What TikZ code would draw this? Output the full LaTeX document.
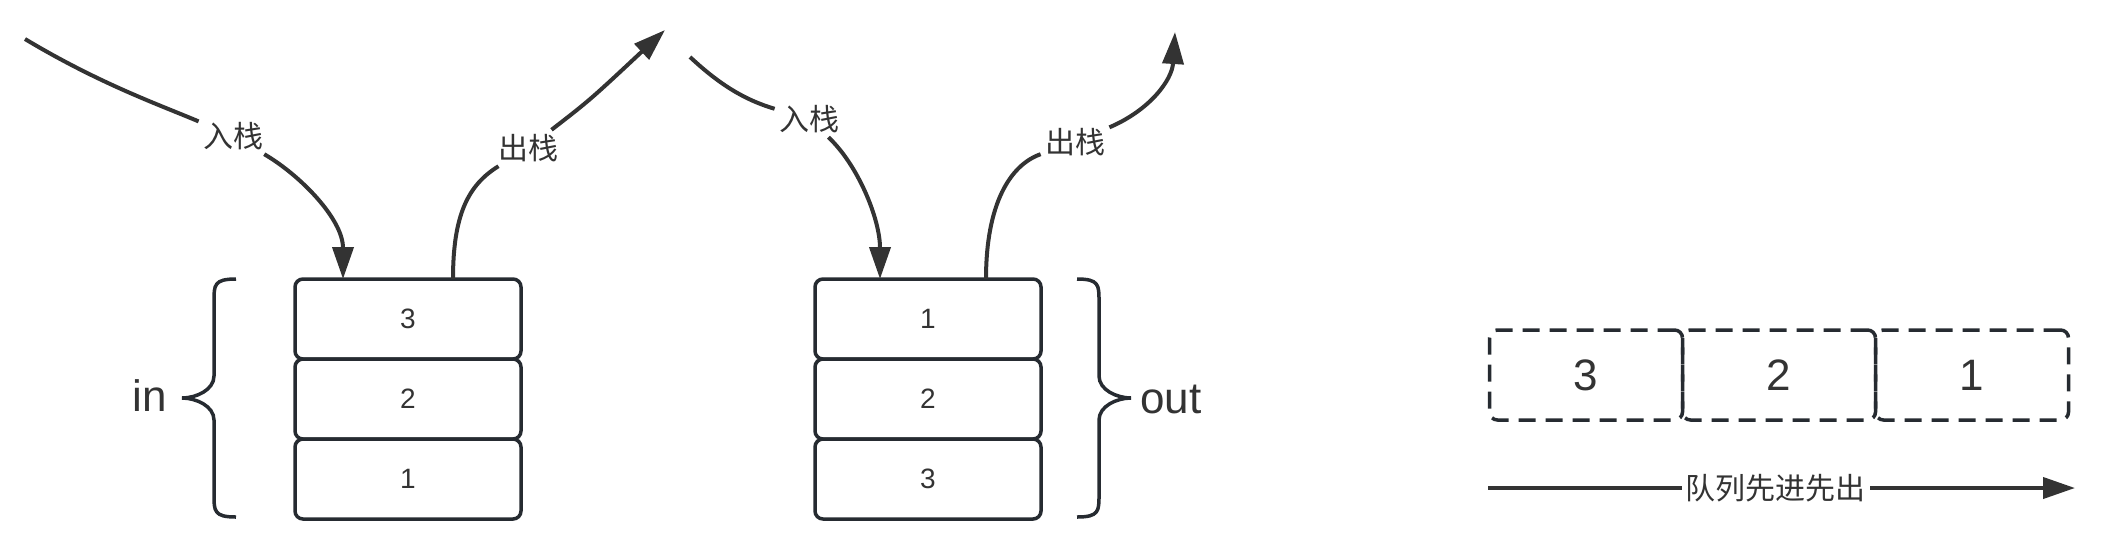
\documentclass[tikz,border=0pt]{standalone}
\usepackage{fontspec}
\setmainfont{Liberation Sans}
\newfontfamily\cjk{Noto Sans CJK SC}
\usetikzlibrary{arrows.meta,calc}
\definecolor{inkColour}{HTML}{262B31}
\definecolor{arrowColour}{HTML}{333333}

\begin{document}
\begin{tikzpicture}[x=.5pt,y=-.5pt,
	cell/.style={draw=inkColour,line width=1.75pt,rounded corners=4pt,minimum width=113pt,minimum height=40pt,outer sep=0pt,text=arrowColour,font=\fontsize{14}{16}\selectfont},
	slot/.style={cell,dash pattern=on 8.5pt off 5pt,minimum width=96.5pt,minimum height=45pt,font=\fontsize{22}{26}\selectfont},
	plain flow/.style={draw=arrowColour,line width=2pt},
	flow/.style={plain flow,-{Triangle[length=16pt,width=10.5pt]}},
	tag/.style={fill=white,inner sep=2pt,text=arrowColour,font=\cjk\fontsize{15}{17}\selectfont},
	bracket/.style={draw=inkColour,line width=1.75pt},
	side/.style={inner sep=0pt,text=arrowColour,font=\fontsize{22}{26}\selectfont}]
\useasboundingbox (0,0) rectangle (2112,532);

% the two stacks and the queue
\foreach \v/\w [count=\i] in {3/1,2/2,1/3}
{%
	\node[cell] (in \i) at (408,239+80*\i) {\v};
	\node[cell] (out \i) at (928,239+80*\i) {\w};
	\node[slot] (queue \i) at (1393+193*\i,375) {\v};
}%
\draw[bracket] ($(in 1.north west)+(-59,0)$) .. controls +(-22,0) and +(0,-16) .. ++(-22,22) -- ++(0,75)
	.. controls +(0,14) and +(14,0) .. ++(-32,22) .. controls +(14,0) and +(0,-14) .. ++(32,22)
	-- ++(0,75) .. controls +(0,16) and +(-22,0) .. ++(22,22);
\draw[bracket] ($(out 1.north east)+(36,0)$) .. controls +(22,0) and +(0,-16) .. ++(22,22) -- ++(0,75)
	.. controls +(0,14) and +(-14,0) .. ++(32,22) .. controls +(-14,0) and +(0,-14) .. ++(-32,22)
	-- ++(0,75) .. controls +(0,16) and +(22,0) .. ++(-22,22);
\node[side,anchor=base east] (in side) at ($(in 2.west)+(-128,12)$) {in};
\node[side,anchor=base west] (out side) at ($(out 2.east)+(99,14)$) {out};

% push and pop, left stack
\coordinate (push start a) at (25,39);
\coordinate (pop end a) at (665,30);
\node[tag] (push tag a) at (233,136) {入栈};
\node[tag] (pop tag a) at (528,148) {出栈};
\draw[plain flow] (push start a) .. controls (100,84) and (160,105) .. (push tag a);
\draw[flow] (push tag a) .. controls (300,175) and ($(in 1.north)+(-65,-60)$) .. ($(in 1.north)+(-65,0)$);
\draw[plain flow] ($(in 1.north)+(45,0)$) .. controls ($(in 1.north)+(45,-64)$) and (468,185) .. (pop tag a);
\draw[flow] (pop tag a) .. controls (590,100) .. (pop end a);

% push and pop, right stack
\coordinate (push start b) at (690,57);
\coordinate (pop end b) at (1175,32);
\node[tag] (push tag b) at (809,119) {入栈};
\node[tag] (pop tag b) at (1075,142) {出栈};
\draw[plain flow] (push start b) .. controls (720,85) and (745,100) .. (push tag b);
\draw[flow] (push tag b) .. controls (858,165) and ($(out 1.north)+(-48,-60)$) .. ($(out 1.north)+(-48,0)$);
\draw[plain flow] ($(out 1.north)+(58,0)$) .. controls ($(out 1.north)+(58,-75)$) and (1010,165) .. (pop tag b);
\draw[flow] (pop tag b) .. controls (1150,110) and (1172,80) .. (pop end b);

% queue order
\coordinate (queue start) at (1488,488);
\coordinate (queue end) at (2075,488);
\draw[flow] (queue start) -- (queue end) node[tag,pos=.49] (queue tag) {队列先进先出};
\end{tikzpicture}
\end{document}
